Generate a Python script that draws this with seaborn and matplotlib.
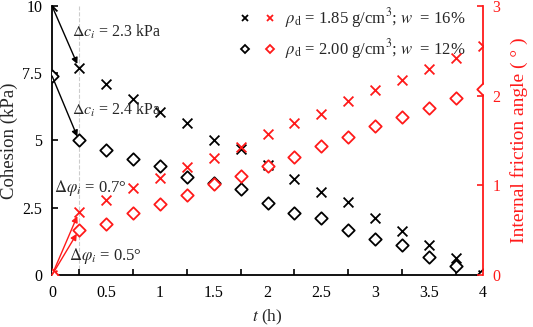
import matplotlib
matplotlib.use("Agg")
import matplotlib.pyplot as plt
import seaborn as sns
import pandas as pd
from matplotlib.legend_handler import HandlerTuple
from matplotlib.lines import Line2D
from matplotlib.ticker import MultipleLocator

t = [0, 0.25, 0.5, 0.75, 1.0, 1.25, 1.5, 1.75, 2.0, 2.25, 2.5, 2.75, 3.0, 3.25, 3.5, 3.75, 4.0]
coh_185 = [10.0, 7.7, 7.1, 6.55, 6.07, 5.64, 5.02, 4.67, 4.09, 3.57, 3.10, 2.70, 2.11, 1.64, 1.12, 0.62, 0.0]
coh_200 = [7.4, 5.0, 4.65, 4.32, 4.06, 3.65, 3.41, 3.18, 2.69, 2.29, 2.11, 1.67, 1.35, 1.12, 0.68, 0.33, 0.0]
phi_185 = [0.0, 0.7, 0.84, 0.97, 1.085, 1.20, 1.31, 1.43, 1.57, 1.69, 1.80, 1.94, 2.06, 2.17, 2.30, 2.42, 2.55]
phi_200 = [0.0, 0.5, 0.57, 0.69, 0.79, 0.89, 1.02, 1.10, 1.22, 1.32, 1.44, 1.54, 1.66, 1.76, 1.86, 1.97, 2.07]
labels = [r'$\rho_\mathrm{d}$ = 1.85 g/cm$^3$; $w$  = 16%',
          r'$\rho_\mathrm{d}$ = 2.00 g/cm$^3$; $w$  = 12%']

df = pd.DataFrame({"t": t, "c185": coh_185, "c200": coh_200, "p185": phi_185, "p200": phi_200})

sns.set_style("white")
plt.rcParams['font.family'] = ['Liberation Serif', 'DejaVu Serif']
plt.rcParams['mathtext.fontset'] = 'stix'

RED = '#ff1a1a'
fig = plt.figure(figsize=(5.33, 3.27), dpi=100)
ax = fig.add_axes([0.0976, 0.159, 0.8086, 0.8227])
ax2 = ax.twinx()

ax.axvline(0.25, color='#cccccc', ls='--', lw=0.8, zorder=0)

sns.scatterplot(data=df, x="t", y="c185", marker='x', color='black', s=50, linewidth=1.3, ax=ax, zorder=3)
sns.scatterplot(data=df, x="t", y="c200", marker='D', facecolor='white', edgecolor='black', s=40, linewidth=1.3, ax=ax, zorder=3)
sns.scatterplot(data=df, x="t", y="p185", marker='x', color=RED, s=50, linewidth=1.3, ax=ax2, zorder=3)
sns.scatterplot(data=df, x="t", y="p200", marker='D', facecolor='white', edgecolor=RED, s=40, linewidth=1.3, ax=ax2, zorder=3)

ax.set_xlim(0, 4)
ax.set_ylim(0, 10)
ax2.set_ylim(0, 3)
ax.set_xticks([0, 0.5, 1, 1.5, 2, 2.5, 3, 3.5, 4])
ax.set_xticklabels(['0', '0.5', '1', '1.5', '2', '2.5', '3', '3.5', '4'])
ax.xaxis.set_minor_locator(MultipleLocator(0.25))
ax.set_yticks([0, 2.5, 5, 7.5, 10])
ax.set_yticklabels(['0', '2.5', '5', '7.5', '10'])
ax2.set_yticks([0, 1, 2, 3])

for a in (ax, ax2):
    for s in a.spines.values():
        s.set_visible(False)
ax.spines['left'].set_visible(True)
ax.spines['bottom'].set_visible(True)
ax.spines['left'].set_color('black')
ax.spines['bottom'].set_color('black')
ax2.spines['right'].set_visible(True)
ax2.spines['right'].set_color(RED)
for s in ('left', 'bottom'):
    ax.spines[s].set_linewidth(1.3)
ax2.spines['right'].set_linewidth(1.3)

ax.tick_params(axis='both', which='major', direction='in', length=4, width=1.2, labelsize=11.5, colors='black', pad=7)
ax.tick_params(axis='x', which='minor', direction='in', length=4, width=1.2, colors='black', bottom=True)
ax2.tick_params(axis='y', direction='in', length=4, width=1.2, labelsize=11.5, colors=RED, pad=7)

ax.set_xlabel(r'$t$ (h)', fontsize=12.5, labelpad=5)
ax.set_ylabel('Cohesion (kPa)', fontsize=13.5, labelpad=3)
ax2.set_ylabel('Internal friction angle ( ° )', fontsize=14, color=RED, labelpad=7)

ax.annotate('', xy=(0.25, coh_185[1]), xytext=(0, coh_185[0]),
            arrowprops=dict(arrowstyle='-|>', color='black', lw=1, mutation_scale=9, shrinkA=0, shrinkB=3))
ax.annotate('', xy=(0.25, coh_200[1]), xytext=(0, coh_200[0]),
            arrowprops=dict(arrowstyle='-|>', color='black', lw=1, mutation_scale=9, shrinkA=0, shrinkB=3))
ax2.annotate('', xy=(0.25, phi_185[1]), xytext=(0, 0),
             arrowprops=dict(arrowstyle='-|>', color=RED, lw=1, mutation_scale=9, shrinkA=0, shrinkB=3))
ax2.annotate('', xy=(0.25, phi_200[1]), xytext=(0, 0),
             arrowprops=dict(arrowstyle='-|>', color=RED, lw=1, mutation_scale=9, shrinkA=0, shrinkB=3))

ax.text(0.19, 9.05, r'$\Delta c_i$ = 2.3 kPa', fontsize=11.5, va='center', ha='left')
ax.text(0.19, 6.15, r'$\Delta c_i$ = 2.4 kPa', fontsize=11.5, va='center', ha='left')
ax.text(0.02, 3.25, r'$\Delta\varphi_i$ = 0.7°', fontsize=12, va='center', ha='left')
ax.text(0.16, 0.72, r'$\Delta\varphi_i$ = 0.5°', fontsize=12, va='center', ha='left')

h1 = (Line2D([], [], marker='x', ls='', color='black', ms=4.5, mew=1.3),
      Line2D([], [], marker='x', ls='', color=RED, ms=4.5, mew=1.3))
h2 = (Line2D([], [], marker='D', ls='', mfc='white', mec='black', ms=4.5, mew=1.3),
      Line2D([], [], marker='D', ls='', mfc='white', mec=RED, ms=4.5, mew=1.3))
leg = ax.legend([h1, h2], labels, handler_map={tuple: HandlerTuple(ndivide=None, pad=1.2)},
                loc='upper left', bbox_to_anchor=(0.44, 1.0), frameon=False, fontsize=12,
                handlelength=1.9, handletextpad=0.7, labelspacing=0.45, borderaxespad=0, borderpad=0)
leg.set_zorder(5)

fig.savefig('out.png', dpi=100)
